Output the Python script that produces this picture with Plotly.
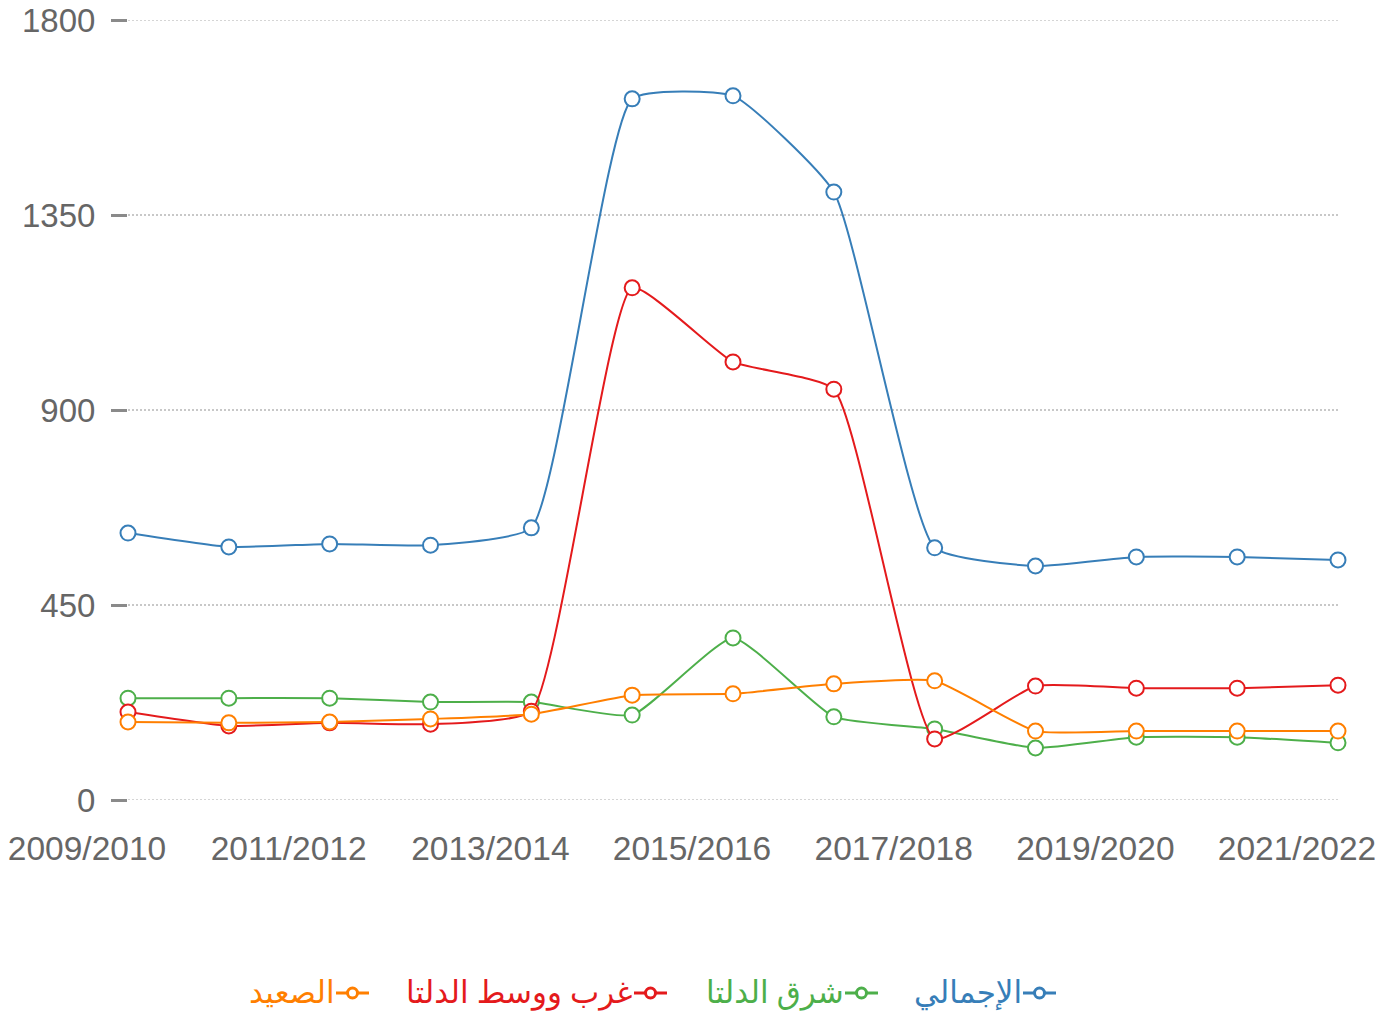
import plotly.graph_objects as go

years = ["2009/2010", "2010/2011", "2011/2012", "2012/2013", "2013/2014", "2014/2015",
         "2015/2016", "2016/2017", "2017/2018", "2018/2019", "2019/2020", "2020/2021", "2021/2022"]

total = [616, 584, 591, 588, 628, 1618, 1625, 1403, 582, 540, 561, 561, 554]
east_delta = [235, 235, 235, 226, 226, 196, 374, 192, 164, 120, 145, 145, 132]
west_mid_delta = [203, 171, 178, 175, 205, 1182, 1011, 948, 141, 263, 258, 258, 265]
upper_egypt = [180, 178, 180, 187, 198, 242, 245, 268, 275, 159, 159, 159, 159]

series_names = ["الإجمالي", "شرق الدلتا", "غرب ووسط الدلتا", "الصعيد"]
series_values = [total, east_delta, west_mid_delta, upper_egypt]
series_colors = ["#377eb8", "#4daf4a", "#e41a1c", "#ff7f00"]

y_ticks = [0, 450, 900, 1350, 1800]
x_tick_idx = list(range(0, len(years), 2))
x_tick_text = [years[i] for i in x_tick_idx]

OFF = 8  # page body margin
W, H = 1392, 1019
ML, MR, MT, MB = 128 - OFF, 54 + OFF, 20 - OFF, 219 + OFF
PW = W - ML - MR
PH = H - MT - MB

GRID_COLOR = "#c8c8c8"
GRID_DASH = "2px,2px"

fig = go.Figure()
xs = list(range(len(years)))
for name, vals, col in zip(series_names, series_values, series_colors):
    fig.add_trace(go.Scatter(
        x=xs, y=vals, name=name, mode="lines+markers",
        line=dict(color=col, width=2, shape="spline", smoothing=0.45),
        marker=dict(size=15, color="white", line=dict(color=col, width=2)),
        cliponaxis=False, showlegend=False,
        customdata=[years[i] for i in xs],
        hovertemplate="%{customdata}: %{y}<extra>" + name + "</extra>",
    ))


def px_x(p):
    return (p - OFF - ML) / PW


def px_y(p):
    return (H - MB - (p - OFF)) / PH


shapes = []
# gridlines at the range ends (Plotly omits them)
for yv in (y_ticks[0], y_ticks[-1]):
    shapes.append(dict(type="line", xref="paper", yref="y", x0=0, x1=1, y0=yv, y1=yv,
                       layer="below", line=dict(color=GRID_COLOR, width=1.5, dash=GRID_DASH)))

# custom right-to-left legend (symbol to the right of the text)
legend_items = [
    (0, 1023),
    (1, 845),
    (2, 634),
    (3, 336),
]
annotations = []
ly = 993
for idx, sx in legend_items:
    col = series_colors[idx]
    shapes.append(dict(type="line", xref="paper", yref="paper",
                       x0=px_x(sx), x1=px_x(sx + 33), y0=px_y(ly), y1=px_y(ly),
                       line=dict(color=col, width=3)))
    shapes.append(dict(type="circle", xref="paper", yref="paper",
                       xsizemode="pixel", ysizemode="pixel",
                       xanchor=px_x(sx + 16.5), yanchor=px_y(ly),
                       x0=-5, x1=5, y0=-5, y1=5,
                       fillcolor="white", line=dict(color=col, width=3)))
    annotations.append(dict(xref="paper", yref="paper", x=px_x(sx + 1), y=px_y(ly - 2),
                            xanchor="right", yanchor="middle", showarrow=False,
                            text=series_names[idx],
                            font=dict(family="Noto Sans, DejaVu Sans, sans-serif", size=31, color=col)))

fig.update_layout(
    width=W, height=H,
    margin=dict(l=ML, r=MR, t=MT, b=MB, autoexpand=False),
    plot_bgcolor="white", paper_bgcolor="white",
    font=dict(family="Liberation Sans, Arial, sans-serif", size=33.5, color="#666666"),
    shapes=shapes, annotations=annotations,
    showlegend=False,
)
fig.update_xaxes(
    range=[0, len(years) - 1], tickvals=x_tick_idx, ticktext=x_tick_text,
    showgrid=False, zeroline=False, showline=False, ticks="",
    ticklabelshift=-41, ticklabelstandoff=25, ticklabeloverflow="allow",
    automargin=False,
)
fig.update_yaxes(
    range=[0, 1800], tickvals=y_ticks,
    showgrid=True, gridcolor=GRID_COLOR, griddash=GRID_DASH, gridwidth=1.5,
    zeroline=False, showline=False,
    ticks="outside", ticklen=16, tickwidth=3, tickcolor="#8a8a8a",
    ticklabelstandoff=9, ticklabeloverflow="allow", automargin=False,
    tickfont=dict(size=33),
)

fig.write_html("out.html")
